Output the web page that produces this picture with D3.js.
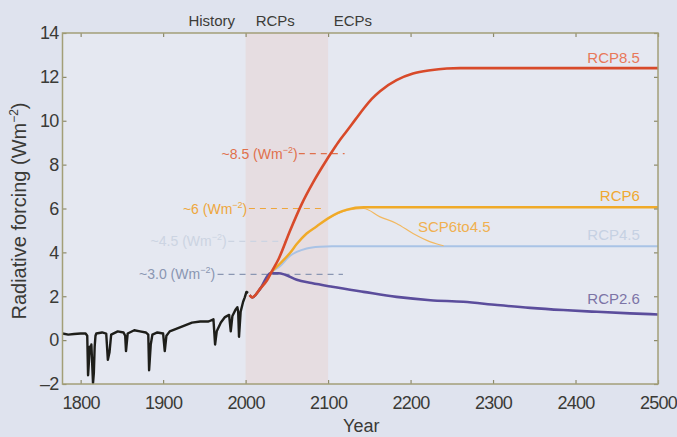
<!DOCTYPE html>
<html><head><meta charset="utf-8">
<script src="https://cdn.jsdelivr.net/npm/d3@7"></script>
<style>
html,body{margin:0;padding:0;background:#dfe3ee;}
svg{display:block;font-family:"Liberation Sans",Arial,Helvetica,sans-serif;}
</style></head><body>
<svg id="chart" width="677" height="437"></svg>
<script>
// ---------- data ----------
const xTicks = [1800, 1900, 2000, 2100, 2200, 2300, 2400, 2500];
const yTicks = [-2, 0, 2, 4, 6, 8, 10, 12, 14];
const periodLabels = ["History", "RCPs", "ECPs"];
const periodYears = [1959, 2036, 2130];
const shadedPeriod = [2000, 2100];

const historical = [
  [1778,0.30],[1785,0.25],[1792,0.28],[1800,0.30],[1806,0.30],[1808,0.20],[1809,-1.60],[1810,-1.00],
  [1811,-0.30],[1812,-0.60],[1813,-0.20],[1815,-1.96],[1816,-1.50],[1817,-0.30],[1818,0.20],[1819,0.30],
  [1826,0.35],[1831,0.30],[1833,-0.90],[1835,-0.55],[1837,0.25],[1845,0.40],[1852,0.35],[1854,0.20],
  [1855,-0.50],[1857,0.30],[1865,0.45],[1872,0.40],[1879,0.35],[1882,0.25],[1883,-1.37],[1885,-0.20],
  [1887,0.25],[1893,0.35],[1900,0.30],[1902,-0.50],[1904,0.20],[1908,0.40],[1915,0.50],[1925,0.65],
  [1935,0.80],[1945,0.85],[1955,0.85],[1961,0.95],[1963,-0.20],[1965,0.40],[1970,0.80],[1975,1.05],
  [1980,1.15],[1982,0.40],[1984,1.10],[1988,1.40],[1990,1.50],[1991,1.30],[1992,0.15],[1994,1.30],
  [1997,1.75],[1999,1.95],[2001,2.20],[2003,2.15]
];
const rcp85 = [
  [2005,2.05],[2008,1.95],[2018,2.36],[2026,2.73],[2032,3.15],[2040,3.70],[2054,5.00],[2068,6.20],
  [2082,7.20],[2098,8.20],[2104,8.55],[2112,9.00],[2122,9.50],[2133,10.05],[2143,10.55],[2153,11.00],
  [2163,11.35],[2183,11.85],[2203,12.15],[2224,12.30],[2244,12.38],[2260,12.40],[2500,12.40]
];
const rcp6 = [
  [2005,2.05],[2008,1.95],[2018,2.36],[2030,3.05],[2042,3.50],[2054,3.98],[2062,4.38],[2074,4.86],
  [2086,5.18],[2100,5.55],[2112,5.80],[2123,5.95],[2143,6.06],[2500,6.06]
];
const scp6to45 = [
  [2100,5.55],[2112,5.78],[2125,5.93],[2143,6.00],[2163,5.62],[2183,5.32],[2203,4.86],[2224,4.48],
  [2232,4.38],[2240,4.30]
];
const rcp45 = [
  [2005,2.05],[2008,1.95],[2018,2.36],[2030,3.05],[2042,3.38],[2054,3.85],[2062,4.02],[2074,4.18],
  [2090,4.26],[2105,4.28],[2500,4.28]
];
const rcp26 = [
  [2005,2.05],[2008,1.95],[2018,2.36],[2030,3.05],[2040,3.05],[2048,2.98],[2062,2.75],[2080,2.60],
  [2105,2.43],[2143,2.20],[2183,1.97],[2224,1.82],[2264,1.75],[2305,1.60],[2345,1.47],[2385,1.37],
  [2426,1.29],[2466,1.22],[2500,1.17]
];
const seriesNames = ["RCP4.5", "SCP6to4.5", "RCP6", "RCP2.6", "RCP8.5"];
const seriesData = [rcp45, scp6to45, rcp6, rcp26, rcp85];
const targetLevels = [8.5, 6, 4.5, 3.0];
const targetLabels = ["~8.5", "~6", "~4.5", "~3.0"];

// ---------- drawing ----------
const W = 677, H = 437;
const M = {left: 62.5, right: 19, top: 33, bottom: 53};
const svg = d3.select("#chart");
const x = d3.scaleLinear().domain([1778, 2500]).range([M.left, W - M.right]);
const y = d3.scaleLinear().domain([-2, 14]).range([H - M.bottom, M.top]);

svg.append("rect").attr("width", W).attr("height", H).attr("fill", "#dfe3ee");
svg.append("rect").attr("x", x.range()[0]).attr("y", y.range()[1])
  .attr("width", x.range()[1] - x.range()[0]).attr("height", y.range()[0] - y.range()[1])
  .attr("fill", "#e5e8f1");
svg.append("rect").attr("x", x(shadedPeriod[0])).attr("y", y.range()[1])
  .attr("width", x(shadedPeriod[1]) - x(shadedPeriod[0])).attr("height", y.range()[0] - y.range()[1])
  .attr("fill", "#e6dde1");

// target-level dashed guides
const guideStyle = [
  {color: "#e0704c", from: 2064.5, to: 2120, text: 2063},
  {color: "#eea63c", from: 2004, to: 2096, text: 2002},
  {color: "#ccd4e2", from: 1979, to: 2050, text: 1977},
  {color: "#8a96b2", from: 1966, to: 2118, text: 1963}
];
targetLevels.forEach((v, i) => {
  const g = guideStyle[i];
  svg.append("line").attr("x1", x(g.from)).attr("x2", x(g.to))
    .attr("y1", y(v)).attr("y2", y(v))
    .attr("stroke", g.color).attr("stroke-width", 1.2).attr("stroke-dasharray", "6,5");
});

const line = d3.line().x(d => x(d[0])).y(d => y(d[1])).curve(d3.curveMonotoneX);
const seriesStyle = {
  "RCP4.5": {color: "#a9c3e6", w: 2},
  "SCP6to4.5": {color: "#f2b860", w: 1.2},
  "RCP6": {color: "#f0aa28", w: 2.4},
  "RCP2.6": {color: "#5b4d9c", w: 2.6},
  "RCP8.5": {color: "#d84a2a", w: 2.6}
};
seriesNames.forEach((name, i) => {
  svg.append("path").datum(seriesData[i]).attr("d", line)
    .attr("fill", "none").attr("stroke", seriesStyle[name].color)
    .attr("stroke-width", seriesStyle[name].w).attr("stroke-linejoin", "round");
});
svg.append("path").datum(historical)
  .attr("d", d3.line().x(d => x(d[0])).y(d => y(d[1])))
  .attr("fill", "none").attr("stroke", "#1e1e1a").attr("stroke-width", 2.4)
  .attr("stroke-linejoin", "round");

// axes (ticks inward on all four sides)
const tickColor = "#3a3a36";
function styleAxis(g) {
  g.select(".domain").remove();
  g.selectAll(".tick line").attr("stroke", "#8d8a6c").attr("stroke-width", 1.2);
  g.selectAll(".tick text").attr("fill", tickColor).attr("font-size", 18)
    .attr("letter-spacing", "-0.7px").attr("font-family", '"Liberation Sans",Arial,sans-serif');
}
svg.append("g").attr("transform", `translate(0,${y.range()[0]})`)
  .call(d3.axisBottom(x).tickValues(xTicks).tickFormat(d3.format("d")).tickSize(-4).tickPadding(12))
  .call(styleAxis);
svg.append("g").attr("transform", `translate(0,${y.range()[1]})`)
  .call(d3.axisTop(x).tickValues(xTicks).tickFormat("").tickSize(-4))
  .call(styleAxis);
svg.append("g").attr("transform", `translate(${x.range()[0]},0)`)
  .call(d3.axisLeft(y).tickValues(yTicks).tickFormat(d => d < 0 ? "\u2013" + Math.abs(d) : d).tickSize(-4).tickPadding(4))
  .call(styleAxis);
svg.append("g").attr("transform", `translate(${x.range()[1]},0)`)
  .call(d3.axisRight(y).tickValues(yTicks).tickFormat("").tickSize(-4))
  .call(styleAxis);

svg.append("rect").attr("x", x.range()[0]).attr("y", y.range()[1])
  .attr("width", x.range()[1] - x.range()[0]).attr("height", y.range()[0] - y.range()[1])
  .attr("fill", "none").attr("stroke", "#a39f78").attr("stroke-width", 1.5);

// axis titles
svg.append("text").attr("x", (x.range()[0] + x.range()[1]) / 2 + 1).attr("y", 432)
  .attr("text-anchor", "middle").attr("font-size", 18).attr("fill", tickColor).text("Year");
const yt = svg.append("text").attr("transform", "translate(26,211) rotate(-90)")
  .attr("text-anchor", "middle").attr("font-size", 20).attr("fill", tickColor);
yt.append("tspan").text("Radiative forcing (Wm");
yt.append("tspan").attr("font-size", 12).attr("dy", -8).text("\u22122");
yt.append("tspan").attr("dy", 8).text(")");

// period labels
periodLabels.forEach((t, i) => {
  svg.append("text").attr("x", x(periodYears[i])).attr("y", 26)
    .attr("text-anchor", "middle").attr("font-size", 15).attr("fill", "#3c3c38").text(t);
});

// target-level labels
targetLevels.forEach((v, i) => {
  const g = guideStyle[i];
  const t = svg.append("text").attr("x", x(g.text)).attr("y", y(v) + 5)
    .attr("text-anchor", "end").attr("font-size", 14).attr("fill", g.color);
  t.append("tspan").text(targetLabels[i] + " (Wm");
  t.append("tspan").attr("font-size", 9).attr("dy", -6).text("\u22122");
  t.append("tspan").attr("dy", 6).text(")");
});

// series labels
const labelSpec = {
  "RCP8.5": {yr: 2478, v: 12.4, dy: -5, color: "#e8785a", anchor: "end"},
  "RCP6": {yr: 2478, v: 6.06, dy: -6, color: "#f0a830", anchor: "end"},
  "RCP4.5": {yr: 2478, v: 4.28, dy: -6, color: "#c6d1e3", anchor: "end"},
  "RCP2.6": {yr: 2478, v: 1.2, dy: -10, color: "#7c74a6", anchor: "end"},
  "SCP6to4.5": {yr: 2209, v: 4.86, dy: -2, color: "#f0b050", anchor: "start"}
};
seriesNames.forEach(name => {
  const s = labelSpec[name];
  svg.append("text").attr("x", x(s.yr)).attr("y", y(s.v) + s.dy)
    .attr("text-anchor", s.anchor).attr("font-size", 15).attr("fill", s.color).text(name);
});
</script>
</body></html>
